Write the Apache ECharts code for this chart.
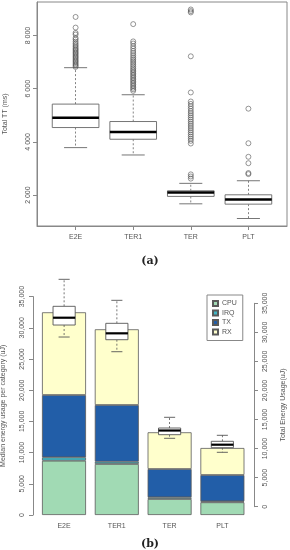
<!DOCTYPE html>
<html><head><meta charset="utf-8">
<script src="https://cdn.jsdelivr.net/npm/echarts@6/dist/echarts.min.js"></script>
<style>html,body{margin:0;padding:0;background:#fff}#c{width:290px;height:550px}</style>
</head><body><div id="c"></div>
<script>
// ---------- (a) Total TT (ms) box plots ----------
const categories = ['E2E', 'TER1', 'TER', 'PLT'];
const ttMin = [3786, 3509, 1672, 1120];
const ttQ1  = [4541, 4101, 1951, 1660];
const ttMed = [4906, 4377, 2100, 1837];
const ttQ3  = [5422, 4767, 2163, 2011];
const ttMax = [6792, 5774, 2442, 2540];
const ttTicks = [2000, 4000, 6000, 8000];
const outE2E = [6820, 6870, 6920, 6970, 7020, 7070, 7120, 7170, 7220, 7270, 7320, 7370, 7420, 7470, 7520, 7580, 7640, 7700, 7770, 7850, 7910, 8040, 8100, 8300, 8700];
const outTER1 = [5920, 5980, 6040, 6100, 6160, 6220, 6280, 6340, 6400, 6460, 6520, 6580, 6640, 6700, 6760, 6830, 6900, 6970, 7040, 7110, 7180, 7260, 7340, 7420, 7510, 7600, 7700, 7780, 8430];
const outTER = [2620, 2700, 2780, 3940, 4040, 4120, 4200, 4280, 4360, 4440, 4520, 4600, 4680, 4760, 4840, 4920, 5000, 5080, 5160, 5250, 5340, 5430, 5520, 5860, 7220, 8870, 8920, 8980];
const outPLT = [2790, 2830, 3200, 3440, 3950, 5250];

// ---------- (b) energy ----------
const cpu = [8702, 8173, 2564, 2035];
const irq = [545, 369, 272, 160];
const tx  = [9984, 9086, 4536, 4215];
const rx  = [13253, 12132, 5881, 4327];
const enMin = [29198, 26670, 11770, 9360];
const enQ1  = [31263, 28734, 12389, 10152];
const enMed = [32520, 29834, 13110, 10668];
const enQ3  = [34480, 31555, 13541, 11253];
const enMax = [39125, 35513, 15382, 12285];
const enTicks = [0, 5000, 10000, 15000, 20000, 25000, 30000, 35000];

const FONT = 'Liberation Sans';
const TXT = '#555';
const AX = '#888';
const pos = categories.map((c, i) => i + 1);

function boxRenderer(boxW, capW, medW, edge) {
  return function (params, api) {
    const x = api.value(0);
    const p = k => api.coord([x, api.value(k)]);
    const pMin = p(1), pQ1 = p(2), pMed = p(3), pQ3 = p(4), pMax = p(5);
    const bw = api.size([boxW, 0])[0];
    const cw = api.size([capW, 0])[0];
    const cx = pMed[0];
    const dash = { stroke: edge, lineWidth: 0.8, lineDash: [2, 2] };
    const solid = { stroke: edge, lineWidth: 0.9 };
    return {
      type: 'group', children: [
        { type: 'line', shape: { x1: cx, y1: pQ3[1], x2: cx, y2: pMax[1] }, style: dash },
        { type: 'line', shape: { x1: cx, y1: pQ1[1], x2: cx, y2: pMin[1] }, style: dash },
        { type: 'line', shape: { x1: cx - cw / 2, y1: pMax[1], x2: cx + cw / 2, y2: pMax[1] }, style: solid },
        { type: 'line', shape: { x1: cx - cw / 2, y1: pMin[1], x2: cx + cw / 2, y2: pMin[1] }, style: solid },
        { type: 'rect', shape: { x: cx - bw / 2, y: pQ3[1], width: bw, height: pQ1[1] - pQ3[1] }, style: { fill: '#fff', stroke: edge, lineWidth: 0.9 } },
        { type: 'line', shape: { x1: cx - bw / 2, y1: pMed[1], x2: cx + bw / 2, y2: pMed[1] }, style: { stroke: '#000', lineWidth: medW } }
      ]
    };
  };
}

const fmtSpace = v => String(v).replace(/\B(?=(\d{3})+(?!\d))/g, ' ');
const fmtComma = v => String(v).replace(/\B(?=(\d{3})+(?!\d))/g, ',');

const outliers = [];
[outE2E, outTER1, outTER, outPLT].forEach((arr, i) => arr.forEach(v => outliers.push([i + 1, v])));

const barSeries = [['CPU', cpu, '#a1dab4'], ['IRQ', irq, '#41b6c4'], ['TX', tx, '#225ea8'], ['RX', rx, '#ffffcc']].map(([n, arr, col]) => ({
  name: n, type: 'bar', stack: 'e', xAxisIndex: 1, yAxisIndex: 1, barWidth: 44, z: 2,
  itemStyle: { color: col, borderColor: '#5a5a5a', borderWidth: 0.8 },
  data: arr
}));

const chart = echarts.init(document.getElementById('c'), null, { renderer: 'canvas' });
chart.setOption({
  animation: false,
  textStyle: { fontFamily: FONT },
  title: [
    { text: '(a)', left: 145, top: 251, textAlign: 'center', textStyle: { fontFamily: 'DejaVu Serif', fontWeight: 'bold', fontSize: 11, color: '#222' } },
    { text: '(b)', left: 145, top: 534, textAlign: 'center', textStyle: { fontFamily: 'DejaVu Serif', fontWeight: 'bold', fontSize: 11, color: '#222' } }
  ],
  legend: {
    data: ['CPU', 'IRQ', 'TX', 'RX'], orient: 'vertical', left: 207, top: 295,
    itemWidth: 5, itemHeight: 5, itemGap: 2.5, icon: 'rect',
    borderColor: AX, borderWidth: 1, borderRadius: 0, padding: [5, 6, 5, 5],
    textStyle: { fontSize: 7, color: TXT, fontFamily: FONT, padding: [0, 0, 0, -1] }
  },
  grid: [
    { left: 37, top: 2, width: 250, height: 224, show: true, borderColor: AX, borderWidth: 1, backgroundColor: 'transparent', outerBoundsMode: 'none', containLabel: false },
    { left: 37.6, top: 296.6, width: 211.2, height: 218.4, outerBoundsMode: 'none', containLabel: false },
    { left: 33, top: 303.3, width: 221, height: 203.4, outerBoundsMode: 'none', containLabel: false }
  ],
  xAxis: [
    { type: 'value', gridIndex: 0, min: 0.33, max: 4.67, splitLine: { show: false },
      axisLine: { show: true, lineStyle: { color: AX } },
      axisTick: { show: true, length: 4, customValues: pos, lineStyle: { color: AX } },
      axisLabel: { customValues: pos, formatter: v => categories[Math.round(v) - 1], fontSize: 7, color: TXT, margin: 8 } },
    { type: 'category', gridIndex: 1, data: categories, boundaryGap: true,
      axisLine: { show: false }, axisTick: { show: false },
      axisLabel: { fontSize: 7, color: TXT, margin: 8 } },
    { type: 'value', gridIndex: 2, min: 0.41, max: 4.6, show: false }
  ],
  yAxis: [
    { type: 'value', gridIndex: 0, min: 838, max: 9262, splitLine: { show: false },
      name: 'Total TT (ms)', nameLocation: 'middle', nameGap: 28, nameRotate: 90,
      nameTextStyle: { fontSize: 7, color: TXT },
      axisLine: { show: true, lineStyle: { color: AX } },
      axisTick: { show: true, length: 4, customValues: ttTicks, lineStyle: { color: AX } },
      axisLabel: { customValues: ttTicks, formatter: fmtSpace, rotate: 90, fontSize: 7, color: TXT, margin: 5 } },
    { type: 'value', gridIndex: 1, min: 0, max: 35000, offset: 4.6, splitLine: { show: false },
      name: 'Median energy usage per category (uJ)', nameLocation: 'middle', nameGap: 26, nameRotate: 90,
      nameTextStyle: { fontSize: 7, color: TXT },
      axisLine: { show: true, lineStyle: { color: AX } },
      axisTick: { show: true, length: 4, customValues: enTicks, lineStyle: { color: AX } },
      axisLabel: { customValues: enTicks, formatter: fmtComma, rotate: 90, fontSize: 7, color: TXT, margin: 7 } },
    { type: 'value', gridIndex: 2, position: 'right', min: 0, max: 35000, splitLine: { show: false },
      name: 'Total Energy Usage(uJ)', nameLocation: 'middle', nameGap: 26, nameRotate: 90,
      nameTextStyle: { fontSize: 7, color: TXT },
      axisLine: { show: true, lineStyle: { color: AX } },
      axisTick: { show: true, length: 4, customValues: enTicks, lineStyle: { color: AX } },
      axisLabel: { customValues: enTicks, formatter: fmtComma, rotate: 90, fontSize: 7, color: TXT, margin: 8 } }
  ],
  series: [
    { type: 'custom', xAxisIndex: 0, yAxisIndex: 0, renderItem: boxRenderer(0.81, 0.4, 2.5, '#666'),
      data: categories.map((c, i) => [i + 1, ttMin[i], ttQ1[i], ttMed[i], ttQ3[i], ttMax[i]]) },
    { type: 'scatter', xAxisIndex: 0, yAxisIndex: 0, symbol: 'circle', symbolSize: 5, z: 3,
      itemStyle: { color: 'rgba(255,255,255,0)', borderColor: '#444', borderWidth: 0.7 }, data: outliers },
    ...barSeries,
    { type: 'custom', xAxisIndex: 2, yAxisIndex: 2, z: 10, renderItem: boxRenderer(0.42, 0.21, 2.2, '#555'),
      data: categories.map((c, i) => [i + 1, enMin[i], enQ1[i], enMed[i], enQ3[i], enMax[i]]) }
  ]
});
</script></body></html>
